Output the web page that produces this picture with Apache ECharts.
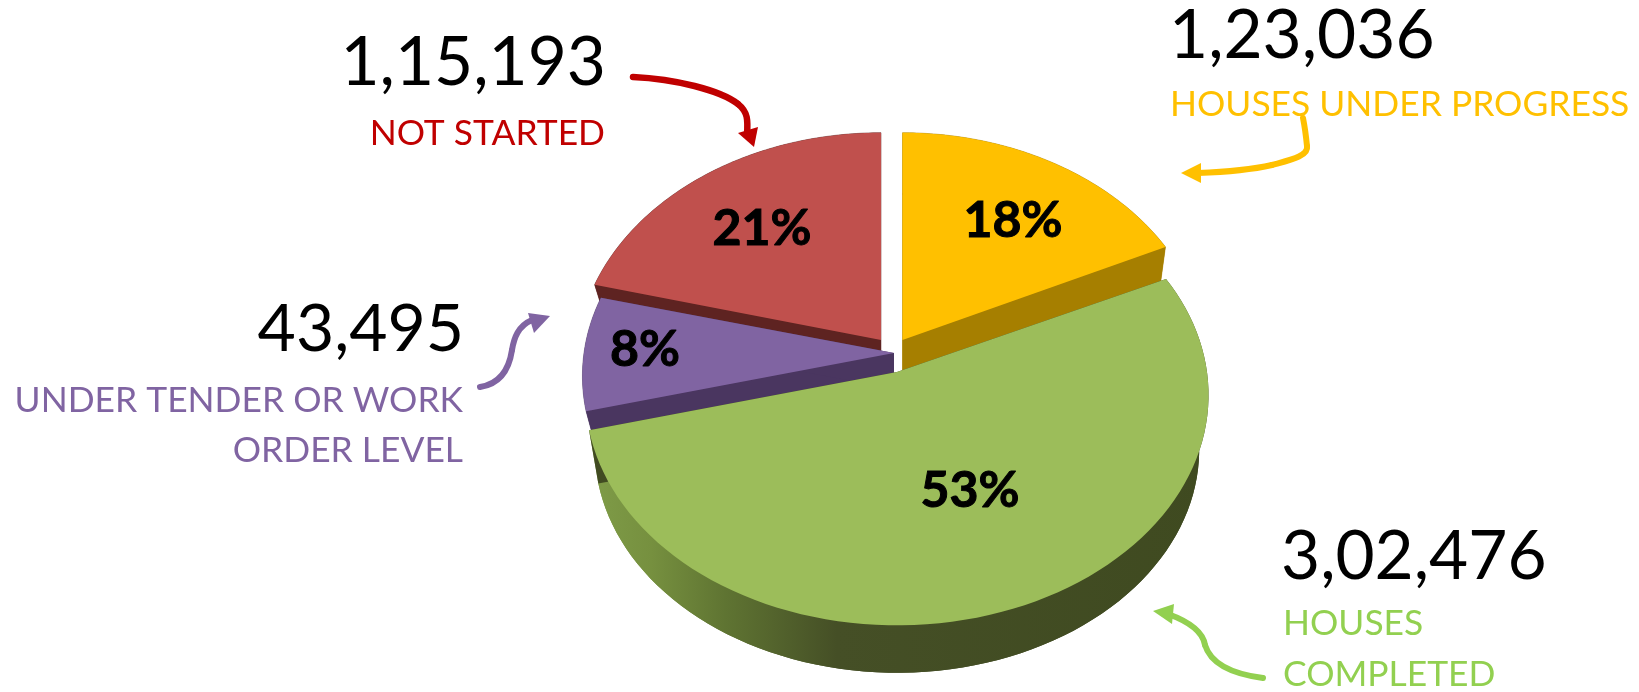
<!DOCTYPE html>
<html>
<head>
<meta charset="utf-8">
<style>
    html, body { margin: 0; padding: 0; background: #fff; }
    #chart { width: 1639px; height: 692px; }
</style>
<script src="https://cdn.jsdelivr.net/npm/echarts@6/dist/echarts.min.js"></script>
</head>
<body>
<div id="chart"></div>
<script>
// clockwise from twelve o'clock
var statusNames = ['HOUSES UNDER PROGRESS', 'HOUSES COMPLETED', 'UNDER TENDER OR WORK ORDER LEVEL', 'NOT STARTED']
var houseCounts = [123036, 302476, 43495, 115193]
var percents = [18, 53, 8, 21]

var topColors = ['#ffc000', '#9cbd5a', '#8064a2', '#c0504d']
var wallColors = ['#a67f00', '#414b22', '#4a3660', '#5e2321']
var textColors = ['#ffc000', '#92d050', '#8064a2', '#c00000']

// back slices first, the green one sits over every other wall
var drawOrder = [3, 0, 2, 1]

// layout of the tilted pie
var apex = [[902.5, 340], [897, 372], [894, 353], [881, 340]]
var radiusX = [303, 310, 310, 303]
var radiusY = 228
var tilt = 0.1
var wallDrop = [55, 55, 36, 26]
var wallShrink = 0.97
var percentPos = [[1013, 221], [970, 491], [645, 350], [762, 229]]

// text blocks: number line then name lines
var numberPos = [[1169, 36, 'left'], [1281, 557, 'left'], [464, 330, 'right'], [606, 63, 'right']]
var nameLines = [['HOUSES UNDER PROGRESS'], ['HOUSES', 'COMPLETED'], ['UNDER TENDER OR WORK', 'ORDER LEVEL'], ['NOT STARTED']]
var nameY = [[105], [624, 675], [401, 451], [134]]
var nameX = [1170, 1283, 463, 605]

// arrows: curve pieces [x1,y1,cpx1,cpy1,cpx2,cpy2,x2,y2] and head triangle
var arrowLines = [
    [[1303, 118, 1305, 128, 1306, 136, 1307, 146], [1307, 146, 1309, 156, 1290, 160, 1272, 165], [1272, 165, 1250, 170, 1225, 172, 1198, 173]],
    [[1263, 678, 1240, 675, 1212, 668, 1205, 645], [1205, 645, 1203, 632, 1190, 622, 1168, 614]],
    [[480, 387, 500, 384, 509, 370, 512, 350], [512, 350, 514, 338, 518, 326, 532, 320]],
    [[633, 77, 675, 79, 720, 90, 738, 104], [738, 104, 748, 112, 748, 120, 747, 135]]
]
var arrowHeads = [
    [[1181, 173], [1201, 163], [1201, 183]],
    [[1153, 611], [1174, 604], [1172, 624]],
    [[550, 316], [528, 313], [534, 333]],
    [[754, 147], [738, 133], [758, 127]]
]
var arrowWidths = [6, 6, 6, 6.5]

function project(c, angle, rx, ry) {
    var u = Math.sin(angle)
    var v = -Math.cos(angle)
    var w = 1 - tilt * v
    return [c[0] + rx * u / w, c[1] + ry * v / w]
}

function sliceAngles(index) {
    var total = percents.reduce(function (a, b) { return a + b }, 0)
    var before = percents.slice(0, index).reduce(function (a, b) { return a + b }, 0)
    return [before / total * Math.PI * 2, (before + percents[index]) / total * Math.PI * 2]
}

function rimPoints(c, index, scale) {
    var range = sliceAngles(index)
    var pts = []
    var steps = 90
    for (var i = 0; i <= steps; i++) {
        var a = range[0] + (range[1] - range[0]) * i / steps
        pts.push(project(c, a, radiusX[index] * scale, radiusY * scale))
    }
    return pts
}

function wallFill(index) {
    if (index !== 1) return wallColors[index]
    return new echarts.graphic.LinearGradient(0, 0, 1, 0, [
        { offset: 0, color: '#7f9c48' },
        { offset: 0.1, color: '#76903f' },
        { offset: 0.22, color: '#5f7432' },
        { offset: 0.4, color: '#454f26' },
        { offset: 1, color: '#3f4a20' }
    ])
}

function renderSlice(params, api) {
    var index = api.value(0)
    var fill = wallFill(index)
    var top = apex[index]
    var low = [top[0], top[1] + wallDrop[index]]
    var rim = rimPoints(top, index, 1)
    var lowRim = rimPoints(low, index, wallShrink)
    var wallStyle = { fill: fill, stroke: wallColors[index], lineWidth: index === 1 ? 0 : 0.5 }
    var poly = function (points, style) {
        return { type: 'polygon', shape: { points: points }, style: style }
    }
    return {
        type: 'group',
        children: [
            poly([low].concat(lowRim), wallStyle),
            poly(rim.concat(lowRim.slice().reverse()), wallStyle),
            poly([top, rim[0], lowRim[0], low], { fill: wallColors[index] }),
            poly([top, rim[rim.length - 1], lowRim[lowRim.length - 1], low], { fill: wallColors[index] }),
            poly([top].concat(rim), { fill: topColors[index] }),
            {
                type: 'text',
                x: percentPos[index][0],
                y: percentPos[index][1],
                style: {
                    text: percents[index] + '%',
                    font: 'bold 50px Lato',
                    fill: '#000',
                    stroke: '#000',
                    lineWidth: 1,
                    align: 'center',
                    verticalAlign: 'middle'
                }
            }
        ]
    }
}

function buildGraphics() {
    var items = []
    houseCounts.forEach(function (count, i) {
        items.push({
            type: 'text',
            x: numberPos[i][0],
            y: numberPos[i][1],
            style: {
                text: count.toLocaleString('en-IN'),
                font: (i === 2 ? 66 : 67.5) + 'px Lato',
                fill: '#000',
                align: numberPos[i][2],
                verticalAlign: 'middle'
            }
        })
        nameLines[i].forEach(function (line, j) {
            items.push({
                type: 'text',
                x: nameX[i],
                y: nameY[i][j],
                style: {
                    text: line,
                    font: '35.4px Lato',
                    fill: textColors[i],
                    align: numberPos[i][2],
                    verticalAlign: 'middle'
                }
            })
        })
        arrowLines[i].forEach(function (p) {
            items.push({
                type: 'bezierCurve',
                shape: { x1: p[0], y1: p[1], cpx1: p[2], cpy1: p[3], cpx2: p[4], cpy2: p[5], x2: p[6], y2: p[7] },
                style: { stroke: textColors[i], lineWidth: arrowWidths[i], fill: null, lineCap: 'round' }
            })
        })
        items.push({
            type: 'polygon',
            shape: { points: arrowHeads[i] },
            style: { fill: textColors[i] }
        })
    })
    return items
}

var chart = echarts.init(document.getElementById('chart'))
chart.setOption({
    animation: false,
    backgroundColor: '#fff',
    tooltip: { show: false },
    graphic: { elements: buildGraphics() },
    series: [{
        type: 'custom',
        coordinateSystem: 'none',
        renderItem: renderSlice,
        encode: { tooltip: [1] },
        data: drawOrder.map(function (i) { return { value: [i, houseCounts[i]], name: statusNames[i] } })
    }]
})
</script>
</body>
</html>
